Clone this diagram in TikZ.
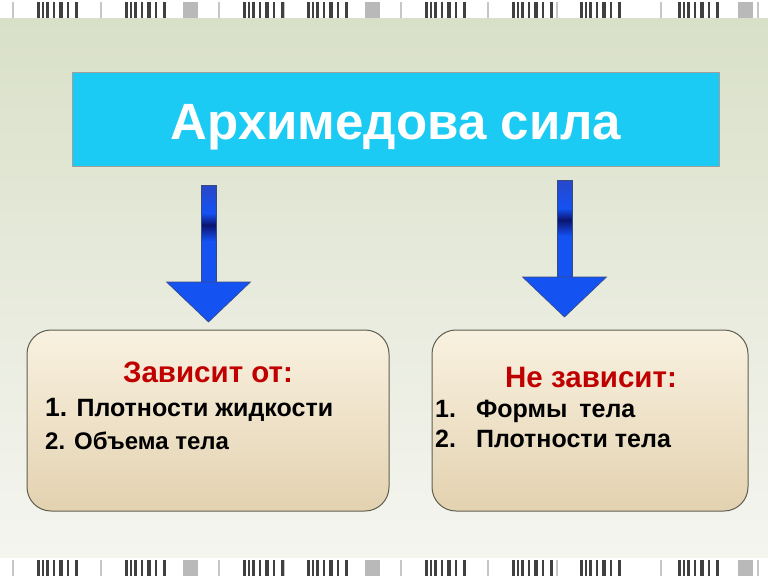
\documentclass[tikz,border=0pt]{standalone}
\usepackage{fontspec}
\setmainfont{Liberation Sans}
\usetikzlibrary{positioning}

\definecolor{titlecyan}{HTML}{1BCBF3}
\definecolor{arrowblue}{HTML}{1452F2}
\definecolor{arrowmid}{HTML}{2848C8}
\definecolor{arrowdark}{HTML}{0A1470}
\definecolor{arrowedge}{HTML}{3A4A80}
\definecolor{boxtop}{HTML}{F9F1E0}
\definecolor{boxbot}{HTML}{E3D2B0}
\definecolor{boxline}{HTML}{5E5E50}
\definecolor{labelred}{HTML}{C00000}
\definecolor{bgtop}{HTML}{D9E0C8}
\definecolor{bgmid}{HTML}{E9ECE2}
\definecolor{bgbot}{HTML}{F5F5F0}

\NewDocumentCommand{\barstrip}{m}{%
\begin{scope}[shift={(0,#1)}]%
\fill[white] (0,0) rectangle (768,18);
\foreach \gx in {12,100,218,283,400,487,556,660,757} {\fill[gray!45] (\gx,2) rectangle ++(1.5,16);}
\foreach \gx in {183,365,738} {\fill[gray!55] (\gx,2) rectangle ++(15,16);}
\foreach \gx in {37,125,243,307,425,512,580,678} {
  \foreach \o/\w in {0/3,5/2,9/3,16/1.5,22/4,30/2,38/3} {\fill[black!75] (\gx+\o,2) rectangle ++(\w,16);}
}
\end{scope}%
}

\NewDocumentCommand{\blockarrow}{m}{%
\begin{scope}[shift={(#1)}]%
\shade[top color=arrowmid, bottom color=arrowblue] (-7.5,0) rectangle (7.5,28);
\shade[top color=arrowblue, bottom color=arrowdark] (-7.5,28) rectangle (7.5,40);
\shade[top color=arrowdark, bottom color=arrowblue] (-7.5,40) rectangle (7.5,56);
\fill[arrowblue] (-7.5,56) rectangle (7.5,97.5);
\draw[arrowedge, line width=0.6pt] (-7.5,97) -- (-7.5,0) -- (7.5,0) -- (7.5,97);
\fill[arrowblue, draw=arrowedge, line width=0.6pt] (-42,97) -- (42,97) -- (0,137) -- cycle;
\end{scope}%
}

\begin{document}
\begin{tikzpicture}[x=1pt,y=-1pt,
    titlebox/.style={draw=gray!75, fill=titlecyan, line width=0.8pt, minimum width=647pt, minimum height=94pt, inner sep=0pt},
    titletext/.style={text=white, font=\bfseries\fontsize{51}{60}\selectfont, anchor=base, inner sep=0pt},
    infobox/.style={draw=boxline, rounded corners=24pt, top color=boxtop, bottom color=boxbot, line width=1pt, minimum height=181pt, inner sep=0pt},
    headtext/.style={text=labelred, font=\bfseries\fontsize{29.5}{34}\selectfont, anchor=base, inner sep=0pt},
    itemtext/.style={font=\bfseries\fontsize{25}{30}\selectfont, anchor=base west, inner sep=0pt}]
        \useasboundingbox (0,0) rectangle (768,576);

        % background
        \shade[top color=bgtop, middle color=bgmid, bottom color=bgbot] (0,18) rectangle (768,557);
        \barstrip{0}
        \barstrip{558}

        % title
        \node[titlebox] (title) at (395.5,119) {};
        \node[titletext] (titlelabel) at (396,139) {Архимедова сила};

        % arrows
        \coordinate (la) at (208.5,185);
        \coordinate (ra) at (564.5,180);
        \blockarrow{la}
        \blockarrow{ra}

        % boxes
        \node[infobox, minimum width=362pt] (dep) at (208,420.5) {};
        \node[infobox, minimum width=316pt] (indep) at (590,420.5) {};

        % left box
        \node[headtext] (deph) at (208,382) {Зависит от:};
        \node[itemtext] (dep1) at (45,416) {{\fontsize{26.5}{30}\selectfont 1.} Плотности жидкости};
        \node[itemtext, font=\bfseries\fontsize{24}{28}\selectfont] (dep2) at (45,449) {2. Объема тела};

        % right box
        \node[headtext] (indeph) at (591,387) {Не зависит:};
        \node[itemtext] (indep1) at (435,417) {1.\hspace{20pt}Формы\hspace{12pt}тела};
        \node[itemtext] (indep2) at (435,447) {2.\hspace{20pt}Плотности тела};
    \end{tikzpicture}
\end{document}
